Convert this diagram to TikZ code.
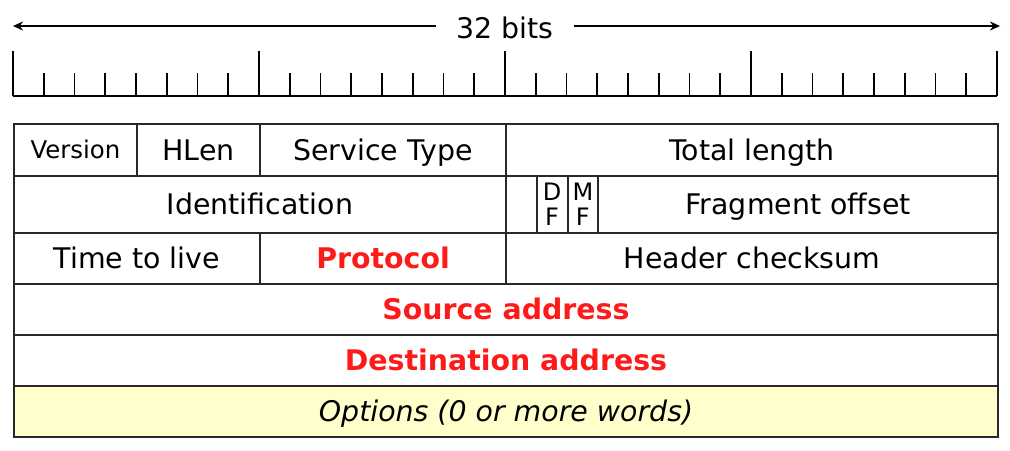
\documentclass[tikz,border=0pt]{standalone}
\usepackage{fontspec}
\setmainfont{DejaVu Sans}
\usetikzlibrary{arrows.meta}
\definecolor{fieldred}{RGB}{255,26,26}
\definecolor{optyellow}{RGB}{255,255,204}
\definecolor{gridgray}{RGB}{40,40,40}
\tikzset{
	cell/.style={draw=gridgray, line width=1pt, anchor=north west, inner sep=0pt,
		text height=10.4pt, text depth=0pt, font=\fontsize{14.2}{17}\selectfont},
	keyfield/.style={text=fieldred, font=\fontsize{14.2}{17}\selectfont\bfseries},
	flagcell/.style={draw=gridgray, line width=1pt, anchor=north west, inner sep=0pt,
		align=center, font=\fontsize{12}{12.5}\selectfont}
}
\begin{document}
\begin{tikzpicture}[x=0.5pt, y=-0.5pt]
	\useasboundingbox (0,0) rectangle (1010,450);

	% bit ruler
	\draw[line width=0.8pt] (13,96) -- (997,96);
	\foreach \i in {0,...,32} {
		\draw[line width=0.8pt] (13+30.75*\i, 96) -- (13+30.75*\i, 73);
	}
	\foreach \i in {0,8,16,24,32} {
		\draw[line width=0.8pt] (13+30.75*\i, 96) -- (13+30.75*\i, 51);
	}

	% width label
	\node [inner sep=10pt, font=\fontsize{14.2}{17}\selectfont] (bits) at (505,28) {32 bits};
	\coordinate (bitsl) at (13,26);
	\coordinate (bitsr) at (1000,26);
	\draw[line width=0.8pt, -{Stealth[length=5pt,width=4.5pt]}] (bits.west |- bitsl) -- (bitsl);
	\draw[line width=0.8pt, -{Stealth[length=5pt,width=4.5pt]}] (bits.east |- bitsr) -- (bitsr);

	% row 1
	\node [cell, minimum width=61.5pt, minimum height=26pt, text height=8.9pt, font=\fontsize{12.2}{15}\selectfont] (version) at (13,123) {Version};
	\node [cell, minimum width=61.5pt, minimum height=26pt] (hlen) at (136,123) {HLen};
	\node [cell, minimum width=123pt, minimum height=26pt] (service) at (259,123) {Service Type};
	\node [cell, minimum width=246pt, minimum height=26pt] (total) at (505,123) {Total length};

	% row 2
	\node [cell, minimum width=246pt, minimum height=28.5pt] (ident) at (13,175) {Identification};
	\node [cell, minimum width=15.375pt, minimum height=28.5pt] (flag0) at (505,175) {};
	\node [flagcell, minimum width=15.375pt, minimum height=28.5pt] (df) at (535.75,175) {D\\F};
	\node [flagcell, minimum width=15.375pt, minimum height=28.5pt] (mf) at (566.5,175) {M\\F};
	\node [cell, minimum width=199.875pt, minimum height=28.5pt] (frag) at (597.25,175) {Fragment offset};

	% row 3
	\node [cell, minimum width=123pt, minimum height=25.5pt] (ttl) at (13,232) {Time to live};
	\node [cell, keyfield, minimum width=123pt, minimum height=25.5pt] (proto) at (259,232) {Protocol};
	\node [cell, minimum width=246pt, minimum height=25.5pt] (check) at (505,232) {Header checksum};

	% addresses and options
	\node [cell, keyfield, minimum width=492pt, minimum height=25.5pt] (src) at (13,283) {Source address};
	\node [cell, keyfield, minimum width=492pt, minimum height=25.5pt] (dst) at (13,334) {Destination address};
	\node [cell, fill=optyellow, minimum width=492pt, minimum height=25.5pt, font=\fontsize{14.2}{17}\selectfont\itshape] (opts) at (13,385) {Options (0 or more words)};
\end{tikzpicture}
\end{document}
